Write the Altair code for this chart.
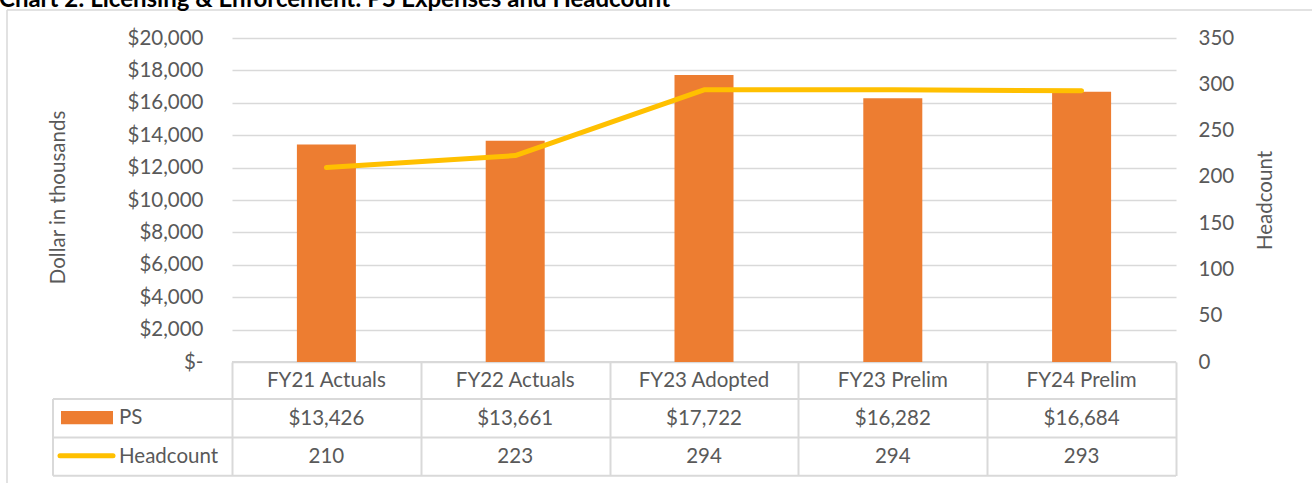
import altair as alt
import pandas as pd

title_text = "Chart 2: Licensing & Enforcement: PS Expenses and Headcount"
categories = ["FY21 Actuals", "FY22 Actuals", "FY23 Adopted", "FY23 Prelim", "FY24 Prelim"]
ps_values = [13426, 13661, 17722, 16282, 16684]
headcount = [210, 223, 294, 294, 293]
left_ticks = [0, 2000, 4000, 6000, 8000, 10000, 12000, 14000, 16000, 18000, 20000]
right_ticks = [0, 50, 100, 150, 200, 250, 300, 350]
row_labels = ["PS", "Headcount"]

df = pd.DataFrame({"Category": categories, "PS": ps_values, "Headcount": headcount})

FONT = "Lato"
FS = 20.5
TXT = "#595959"
GRID = "#D9D9D9"
ORANGE = "#ED7D31"
GOLD = "#FFC000"

W, H = 944, 324
LEFT, TOP = 232, 38

x_enc = alt.X(
    "Category:N",
    sort=categories,
    scale=alt.Scale(paddingInner=0, paddingOuter=0),
    axis=alt.Axis(
        title=None, labels=False, domain=False, grid=False,
        ticks=True, tickBand="extent", tickSize=113.5,
        tickColor=GRID, tickWidth=2, orient="bottom",
    ),
)

bars = alt.Chart(df).mark_bar(
    color=ORANGE, width=alt.RelativeBandSize(0.3125)
).encode(
    x=x_enc,
    y=alt.Y(
        "PS:Q",
        scale=alt.Scale(domain=[0, 20000], nice=False),
        axis=alt.Axis(
            values=left_ticks,
            labelExpr="datum.value == 0 ? '$-\u00a0\u00a0' : format(datum.value, '$,.0f')",
            grid=True, gridColor=GRID, gridWidth=1.5,
            domain=False, ticks=False, tickSize=0, labelPadding=29,
            title="Dollar in thousands", titleX=-174, titleY=159,
            titleAngle=270, titleAlign="center", titleBaseline="middle",
            orient="left",
        ),
    ),
)

line = alt.Chart(df).mark_line(
    color=GOLD, strokeWidth=5, strokeCap="round", strokeJoin="round"
).encode(
    x=alt.X("Category:N", sort=categories),
    y=alt.Y(
        "Headcount:Q",
        scale=alt.Scale(domain=[0, 350], nice=False),
        axis=alt.Axis(
            values=right_ticks, grid=False, domain=False, ticks=False, tickSize=0,
            labelPadding=22, labelAlign="left",
            title="Headcount", titleX=89, titleY=162,
            titleAngle=270, titleAlign="center", titleBaseline="middle",
            orient="right",
        ),
    ),
)

header = alt.Chart(df).mark_text(
    font=FONT, fontSize=FS, color=TXT, baseline="middle", align="center"
).encode(x=alt.X("Category:N", sort=categories), y=alt.value(343), text="Category:N")

ps_row = alt.Chart(df).mark_text(
    font=FONT, fontSize=FS, color=TXT, baseline="middle", align="center"
).encode(x=alt.X("Category:N", sort=categories), y=alt.value(381),
         text=alt.Text("PS:Q", format="$,.0f"))

hc_row = alt.Chart(df).mark_text(
    font=FONT, fontSize=FS, color=TXT, baseline="middle", align="center"
).encode(x=alt.X("Category:N", sort=categories), y=alt.value(419),
         text=alt.Text("Headcount:Q", format=",.0f"))

one = alt.Data(values=[{"a": 1}])

def hrule(y, x0, x1, color=GRID, w=2):
    return alt.Chart(one).mark_rule(color=color, strokeWidth=w).encode(
        x=alt.value(x0), x2=alt.value(x1), y=alt.value(y))

def vrule(x, y0, y1, color=GRID, w=2):
    return alt.Chart(one).mark_rule(color=color, strokeWidth=w).encode(
        x=alt.value(x), y=alt.value(y0), y2=alt.value(y1))

table_lines = [
    hrule(324, 0, W),
    hrule(361, -179, W),
    hrule(399.5, -179, W),
    hrule(437.7, -179, W),
    vrule(-179, 361, 437.7),
]

border = [
    hrule(-28, -225, 1200, color="#D9D9D9", w=1.5),
    vrule(-225, -28, 460, color="#D9D9D9", w=1.5),
]

ps_label = alt.Chart(one).mark_text(
    font=FONT, fontSize=FS, color=TXT, align="left", baseline="middle"
).encode(x=alt.value(-113), y=alt.value(380), text=alt.value(row_labels[0]))
hc_label = alt.Chart(one).mark_text(
    font=FONT, fontSize=FS, color=TXT, align="left", baseline="middle"
).encode(x=alt.value(-113), y=alt.value(418.5), text=alt.value(row_labels[1]))

ps_sym = alt.Chart(one).mark_rect(color=ORANGE).encode(
    x=alt.value(-171), x2=alt.value(-119), y=alt.value(373), y2=alt.value(386.3))
hc_sym = alt.Chart(one).mark_rule(color=GOLD, strokeWidth=5, strokeCap="round").encode(
    x=alt.value(-172), x2=alt.value(-119), y=alt.value(417.7))

title = alt.Chart(one).mark_text(
    font=FONT, fontSize=24, fontWeight="bold", color="#000000", align="left",
    baseline="alphabetic"
).encode(x=alt.value(-233), y=alt.value(-31), text=alt.value(title_text))

chart = alt.layer(
    *border, title, *table_lines, bars, line, header, ps_row, hc_row,
    ps_label, hc_label, ps_sym, hc_sym,
).resolve_scale(y="independent").properties(
    width=W, height=H,
    autosize=alt.AutoSizeParams(type="none"),
    padding={"left": LEFT, "top": TOP, "right": 1312 - LEFT - W, "bottom": 483 - TOP - H},
).configure_view(stroke=None).configure_axis(
    labelFont=FONT, labelFontSize=FS, labelColor=TXT,
    titleFont=FONT, titleFontSize=FS, titleColor=TXT, titleFontWeight="normal",
)

chart.save("out.html", embed_options={"renderer": "svg", "actions": False})
